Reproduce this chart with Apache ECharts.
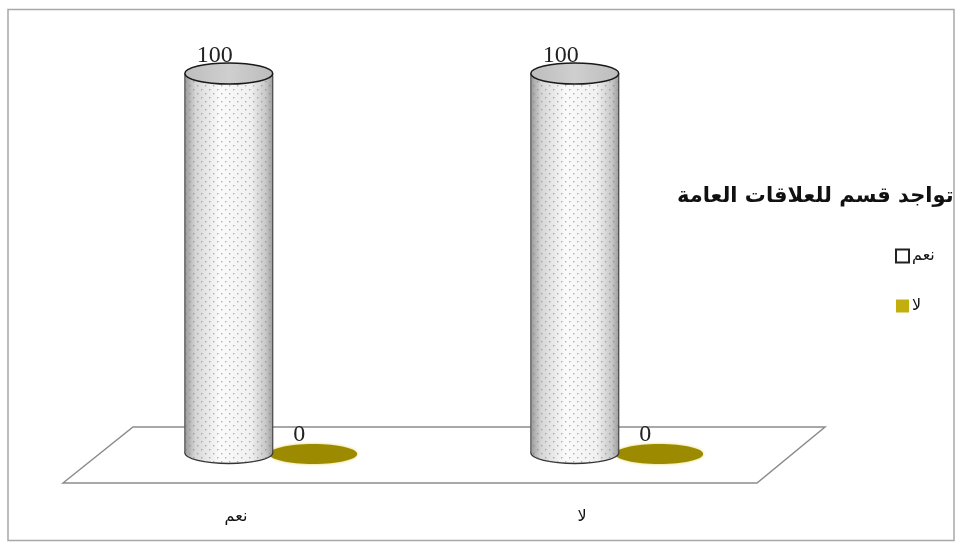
<!DOCTYPE html>
<html>
<head>
<meta charset="utf-8">
<script src="https://cdn.jsdelivr.net/npm/echarts@6/dist/echarts.min.js"></script>
<style>
  html, body { margin: 0; padding: 0; background: #fff; }
  #chart { width: 960px; height: 549px; }
</style>
</head>
<body>
<div id="chart"></div>
<script>
// Categories and series values
const categories = ['نعم', 'لا'];
const seriesNames = ['نعم', 'لا'];
const valuesYes = [100, 100];
const valuesNo = [0, 0];
const chartTitle = 'تواجد قسم للعلاقات العامة';

const OLIVE = '#9c8a00';

// Small dotted texture laid over the cylinders
function makeDots() {
  const c = document.createElement('canvas');
  c.width = 8; c.height = 8;
  const g = c.getContext('2d');
  g.fillStyle = 'rgba(120,120,120,0.55)';
  g.fillRect(1, 1, 1.4, 1.4);
  g.fillRect(5, 5, 1.4, 1.4);
  return c;
}
const dots = makeDots();

const bodyGrad = {
  type: 'linear', x: 0, y: 0, x2: 1, y2: 0,
  colorStops: [
    { offset: 0, color: '#9a9a9a' },
    { offset: 0.12, color: '#d6d6d6' },
    { offset: 0.4, color: '#fbfbfb' },
    { offset: 0.75, color: '#f0f0f0' },
    { offset: 0.92, color: '#c8c8c8' },
    { offset: 1, color: '#9e9e9e' }
  ]
};
const topGrad = {
  type: 'linear', x: 0, y: 0, x2: 1, y2: 0,
  colorStops: [
    { offset: 0, color: '#bdbdbd' },
    { offset: 0.5, color: '#cfcfcf' },
    { offset: 1, color: '#bcbcbc' }
  ]
};

// Cylinder (non-zero) or flat disc (zero) per data item
function renderCylinder(seriesIdx) {
  return function (params, api) {
    const cat = api.value(0);
    const val = api.value(1);
    const top = api.coord([cat, val]);
    const base = api.coord([cat, 0]);
    const band = api.size([1, 0])[0];
    const cx = top[0] + (seriesIdx === 0 ? -1 : 1) * band * 0.122;
    const rx = band * 0.127;
    const ry = 10.5;
    const yTop = top[1];
    const yBase = base[1];
    const children = [];
    const label = {
      type: 'text',
      z2: 20,
      style: {
        text: String(val),
        x: cx - 14, y: yTop - 18,
        align: 'center', verticalAlign: 'middle',
        font: '24px "Liberation Serif"',
        fill: '#222'
      }
    };
    if (seriesIdx === 1 || val === 0) {
      const fill = seriesIdx === 1 ? OLIVE : '#cfcfcf';
      children.push({
        type: 'ellipse',
        shape: { cx: cx, cy: yBase + 1, rx: rx, ry: ry - 0.5 },
        style: { fill: fill, shadowBlur: 3, shadowColor: 'rgba(220,200,40,0.8)' }
      });
      children.push(label);
      return { type: 'group', children: children };
    }
    // bottom cap
    children.push({
      type: 'ellipse',
      shape: { cx: cx, cy: yBase, rx: rx, ry: ry },
      style: { fill: bodyGrad, stroke: '#333', lineWidth: 1.3 }
    });
    children.push({
      type: 'ellipse',
      shape: { cx: cx, cy: yBase, rx: rx, ry: ry },
      style: { fill: { image: dots, repeat: 'repeat' } }
    });
    // body
    children.push({
      type: 'rect',
      shape: { x: cx - rx, y: yTop, width: rx * 2, height: yBase - yTop },
      style: { fill: bodyGrad }
    });
    children.push({
      type: 'rect',
      shape: { x: cx - rx, y: yTop, width: rx * 2, height: yBase - yTop },
      style: { fill: { image: dots, repeat: 'repeat' } }
    });
    // side edges
    children.push({
      type: 'line',
      shape: { x1: cx - rx, y1: yTop, x2: cx - rx, y2: yBase },
      style: { stroke: '#555', lineWidth: 1.2 }
    });
    children.push({
      type: 'line',
      shape: { x1: cx + rx, y1: yTop, x2: cx + rx, y2: yBase },
      style: { stroke: '#444', lineWidth: 1.2 }
    });
    // top cap
    children.push({
      type: 'ellipse',
      shape: { cx: cx, cy: yTop, rx: rx, ry: ry },
      style: { fill: topGrad, stroke: '#1a1a1a', lineWidth: 1.5 }
    });
    children.push(label);
    return { type: 'group', children: children };
  };
}

const chart = echarts.init(document.getElementById('chart'), null, { renderer: 'canvas' });

const yesData = categories.map((c, i) => [i, valuesYes[i]]);
const noData = categories.map((c, i) => [i, valuesNo[i]]);

chart.setOption({
  backgroundColor: '#fff',
  animation: false,
  title: {
    text: chartTitle,
    left: 677,
    top: 186,
    padding: 0,
    textStyle: {
      fontFamily: 'DejaVu Sans',
      fontWeight: 'bold',
      fontSize: 21,
      color: '#111'
    }
  },
  legend: {
    orient: 'vertical',
    left: 895,
    top: 248,
    padding: 0,
    itemWidth: 13,
    itemHeight: 13,
    itemGap: 34,
    icon: 'rect',
    textStyle: { fontFamily: 'DejaVu Sans', fontSize: 16, color: '#111', lineHeight: 13, padding: [0, 0, 0, -2] },
    data: [
      { name: seriesNames[0], itemStyle: { color: '#fff', borderColor: '#222', borderWidth: 2 } },
      { name: seriesNames[1], itemStyle: { color: '#c2ae0c', borderWidth: 0 } }
    ]
  },
  grid: { left: 98, width: 692, top: 73.5, bottom: 96 },
  xAxis: {
    type: 'category',
    data: categories,
    axisLine: { show: false },
    axisTick: { show: false },
    splitLine: { show: false },
    axisLabel: {
      margin: 56,
      fontFamily: 'DejaVu Sans',
      fontSize: 16,
      color: '#111',
      padding: [0, 70, 0, 0]
    }
  },
  yAxis: {
    type: 'value',
    min: 0, max: 100, interval: 20,
    show: false
  },
  graphic: [
    {
      type: 'rect',
      z: -10,
      shape: { x: 8, y: 9.5, width: 946, height: 531 },
      style: { fill: '#fff', stroke: '#a8a8a8', lineWidth: 1.5 }
    },
    {
      type: 'polygon',
      z: -5,
      shape: { points: [[63, 483], [133, 427], [825, 427], [757, 483]] },
      style: { fill: '#fff', stroke: '#8c8c8c', lineWidth: 1.5 }
    }
  ],
  series: [
    {
      name: seriesNames[0],
      type: 'custom',
      itemStyle: { color: '#fff' },
      renderItem: renderCylinder(0),
      encode: { x: 0, y: 1 },
      data: yesData,
      z: 5
    },
    {
      name: seriesNames[1],
      type: 'custom',
      itemStyle: { color: '#c2ae0c' },
      renderItem: renderCylinder(1),
      encode: { x: 0, y: 1 },
      data: noData,
      z: 4
    }
  ]
});
</script>
</body>
</html>
